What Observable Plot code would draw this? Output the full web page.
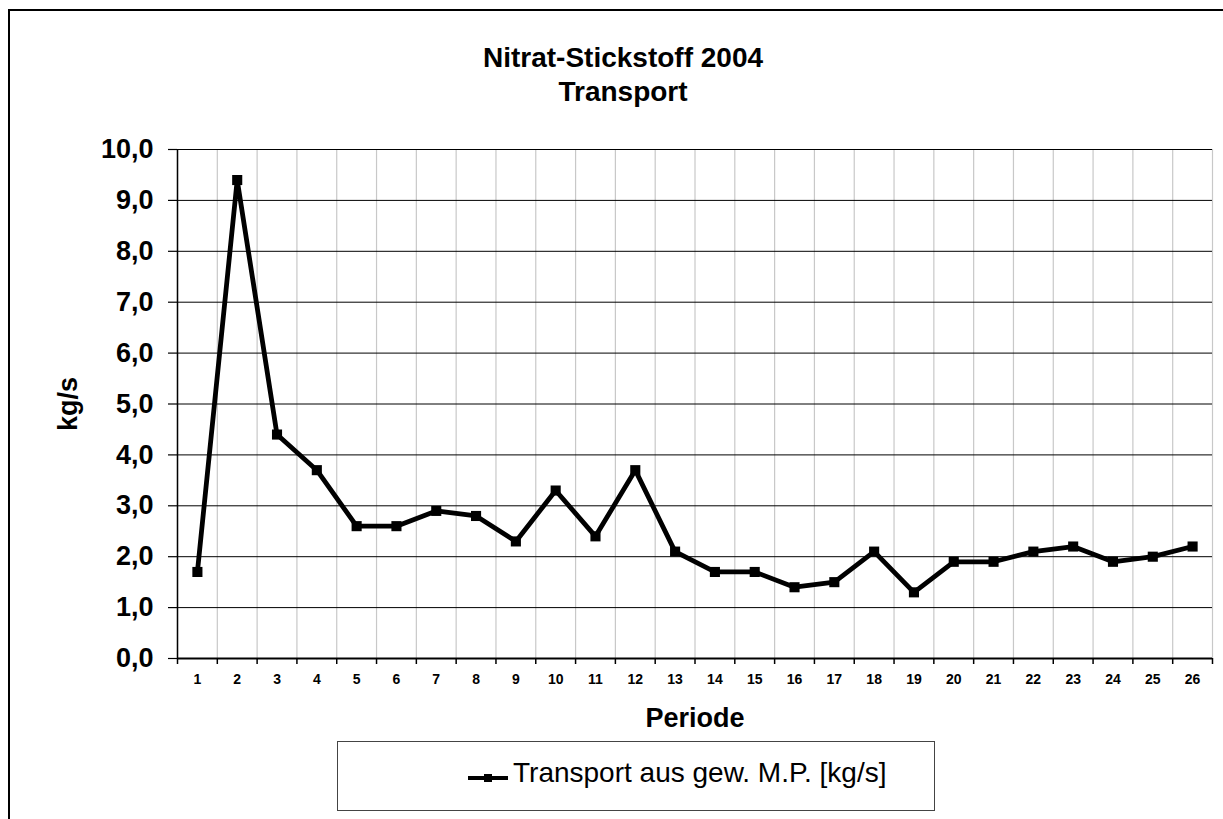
<!DOCTYPE html>
<html>
<head>
<meta charset="utf-8">
<script src="https://cdn.jsdelivr.net/npm/d3@7"></script>
<script src="https://cdn.jsdelivr.net/npm/@observablehq/plot@0.6"></script>
<style>
  html, body { margin: 0; padding: 0; background: #fff; overflow: hidden; }
  body { width: 1223px; height: 819px; position: relative; font-family: "Liberation Sans", Arial, sans-serif; color: #000; }
  #chart { position: absolute; left: 0; top: 0; }
  .abs { position: absolute; white-space: nowrap; }
  #title { left: 323px; top: 41px; width: 600px; text-align: center; font-weight: bold; font-size: 28px; line-height: 34px; }
  #xlabel { left: 495px; top: 705px; width: 400px; text-align: center; font-weight: bold; font-size: 27px; line-height: 27px; }
  #ylabel { left: 68px; top: 404px; font-weight: bold; font-size: 27px; line-height: 27px; transform: translate(-50%, -50%) rotate(-90deg); }
  #legend { left: 337px; top: 741px; width: 598px; height: 70px; border: 1px solid #444; box-sizing: border-box; background: #fff; }
  #legend svg { position: absolute; left: 129px; top: 29px; }
  #legend span { position: absolute; left: 175px; top: 14px; font-size: 28px; line-height: 34px; }
  #frame { position: absolute; left: 8px; top: 9px; width: 1400px; height: 1000px; border-top: 2px solid #000; border-left: 2px solid #000; pointer-events: none; }
</style>
</head>
<body>
<div id="chart"></div>
<div id="title" class="abs">Nitrat-Stickstoff 2004<br>Transport</div>
<div id="ylabel" class="abs">kg/s</div>
<div id="xlabel" class="abs">Periode</div>
<div id="legend" class="abs">
  <svg width="42" height="14"><line x1="1" y1="7" x2="41" y2="7" stroke="#000" stroke-width="4"/><rect x="17" y="3" width="8" height="8" fill="#000"/></svg>
  <span>Transport aus gew. M.P. [kg/s]</span>
</div>
<div id="frame"></div>
<script>
// Data
const periods = [1, 2, 3, 4, 5, 6, 7, 8, 9, 10, 11, 12, 13, 14, 15, 16, 17, 18, 19, 20, 21, 22, 23, 24, 25, 26];
const transport = [1.7, 9.4, 4.4, 3.7, 2.6, 2.6, 2.9, 2.8, 2.3, 3.3, 2.4, 3.7, 2.1, 1.7, 1.7, 1.4, 1.5, 2.1, 1.3, 1.9, 1.9, 2.1, 2.2, 1.9, 2.0, 2.2];
const yTicks = [0, 1, 2, 3, 4, 5, 6, 7, 8, 9, 10];

const data = periods.map((p, i) => ({ period: p, value: transport[i] }));
const boundaries = [periods[0] - 0.5, ...periods.map(p => p + 0.5)];

const chart = Plot.plot({
  width: 1223,
  height: 819,
  marginLeft: 177,
  marginRight: 11,
  marginTop: 149,
  marginBottom: 161,
  style: { background: "transparent", fontFamily: "'Liberation Sans', Arial, sans-serif", color: "#000", overflow: "visible" },
  x: { type: "linear", domain: [0.5, 26.5] },
  y: { domain: [0, 10] },
  marks: [
    Plot.gridX(boundaries, { stroke: "#c8c8c8", strokeOpacity: 1, strokeWidth: 1.2 }),
    Plot.gridY(yTicks, { stroke: "#000", strokeOpacity: 1, strokeWidth: 1 }),
    Plot.axisY(yTicks, {
      tickSize: 9, tickPadding: 15, strokeWidth: 1.2,
      tickFormat: d => d.toFixed(1).replace(".", ","),
      fontSize: 27, fontWeight: "bold", label: null
    }),
    Plot.axisX(boundaries, { tickSize: 6, strokeWidth: 1.5, tickFormat: () => "", label: null }),
    Plot.axisX(periods, { tickSize: 0, tickPadding: 16, fontSize: 14, fontWeight: "bold", label: null, tickFormat: d => String(d) }),
    Plot.ruleX([0.5], { stroke: "#000", strokeWidth: 1.5 }),
    Plot.ruleY([0], { stroke: "#000", strokeWidth: 2 }),
    Plot.line(data, { x: "period", y: "value", stroke: "#000", strokeWidth: 4.8, strokeLinejoin: "miter" }),
    Plot.dot(data, { x: "period", y: "value", symbol: "square", r: 5.7, fill: "#000", stroke: null })
  ]
});
document.getElementById("chart").appendChild(chart);
</script>
</body>
</html>
